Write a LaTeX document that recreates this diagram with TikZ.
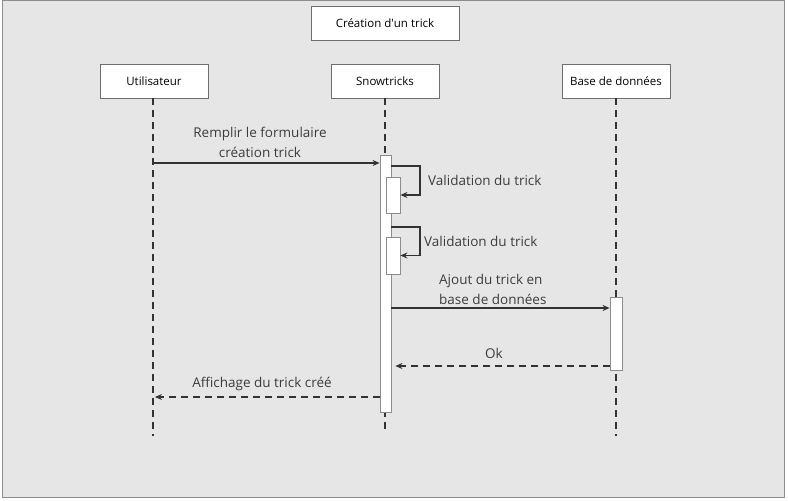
\documentclass[tikz,border=0pt]{standalone}
\usepackage{fontspec}
\setmainfont{Open Sans}
\usetikzlibrary{arrows.meta}
\begin{document}
\begin{tikzpicture}[x=1pt,y=1pt,
  actor/.style={draw=boxColor,fill=white,line width=0.8pt,minimum width=108pt,minimum height=34pt,inner sep=0pt,font=\fontsize{11.5}{13}\selectfont,text=black},
  bar/.style={draw=barColor,fill=white,line width=0.8pt,inner sep=0pt},
  life/.style={draw=lineColor,line width=1.2pt,dash pattern=on 7pt off 5pt},
  msg/.style={draw=lineColor,line width=1.2pt,-{Stealth[length=7pt,width=6pt]}},
  reply/.style={msg,dash pattern=on 7pt off 5pt},
  lbl/.style={text=textColor,inner sep=0pt,font=\fontsize{13.5}{20}\selectfont,align=center}]
\definecolor{fillColor}{RGB}{230,230,230}
\definecolor{boxColor}{RGB}{110,110,110}
\definecolor{barColor}{RGB}{140,140,140}
\definecolor{lineColor}{RGB}{51,51,51}
\definecolor{textColor}{RGB}{60,60,60}
\path[use as bounding box,fill=white] (0,0) rectangle (788,501);
\path[draw=barColor,fill=fillColor,line width=1pt] (2,3) rectangle (784,500);

% title and actors
\node[actor,minimum width=148pt] (title) at (385,478) {Création d\textquotesingle un trick};
\node[actor] (user) at (154,420) {Utilisateur};
\node[actor] (app) at (385,420) {Snowtricks};
\node[actor] (db) at (616,420) {Base de données};

% lifelines
\coordinate (userEnd) at (153,65);
\coordinate (appEnd) at (385,68);
\coordinate (dbEnd) at (616,65);
\path[life] (user.south -| userEnd) -- (userEnd);
\path[life] (app.south) -- (appEnd);
\path[life] (db.south) -- (dbEnd);

% activation bars
\node[bar,minimum width=11pt,minimum height=257pt] (appBar) at (385.5,217.5) {};
\node[bar,minimum width=14pt,minimum height=36pt] (check1) at (393,306) {};
\node[bar,minimum width=14pt,minimum height=37pt] (check2) at (393,245.5) {};
\node[bar,minimum width=12pt,minimum height=73pt] (dbBar) at (616,167.5) {};

% messages
\coordinate (userSend) at (153,338);
\coordinate (userGet) at (155,104);
\path[msg] (userSend) -- (appBar.west |- userSend);
\node[lbl] (m1) at (260,359) {Remplir le formulaire\\création trick};

\path[msg] (appBar.east |- 0,335) -- (420,335) |- (check1.east);
\node[lbl,anchor=west] (m2) at (428,321) {Validation du trick};

\path[msg] (appBar.east |- 0,274) -- (420,274) |- (check2.east);
\node[lbl,anchor=west] (m3) at (424,260) {Validation du trick};

\path[msg] (appBar.east |- 0,193) -- (dbBar.west |- 0,193);
\node[lbl,anchor=west,align=left] (m4) at (439,212) {Ajout du trick en\\base de données};

\path[reply] (dbBar.west |- 0,135) -- ([xshift=4pt]appBar.east |- 0,135);
\node[lbl] (m5) at (494,148) {Ok};

\path[reply] (appBar.west |- userGet) -- (userGet);
\node[lbl] (m6) at (262,117) {Affichage du trick créé};
\end{tikzpicture}
\end{document}
